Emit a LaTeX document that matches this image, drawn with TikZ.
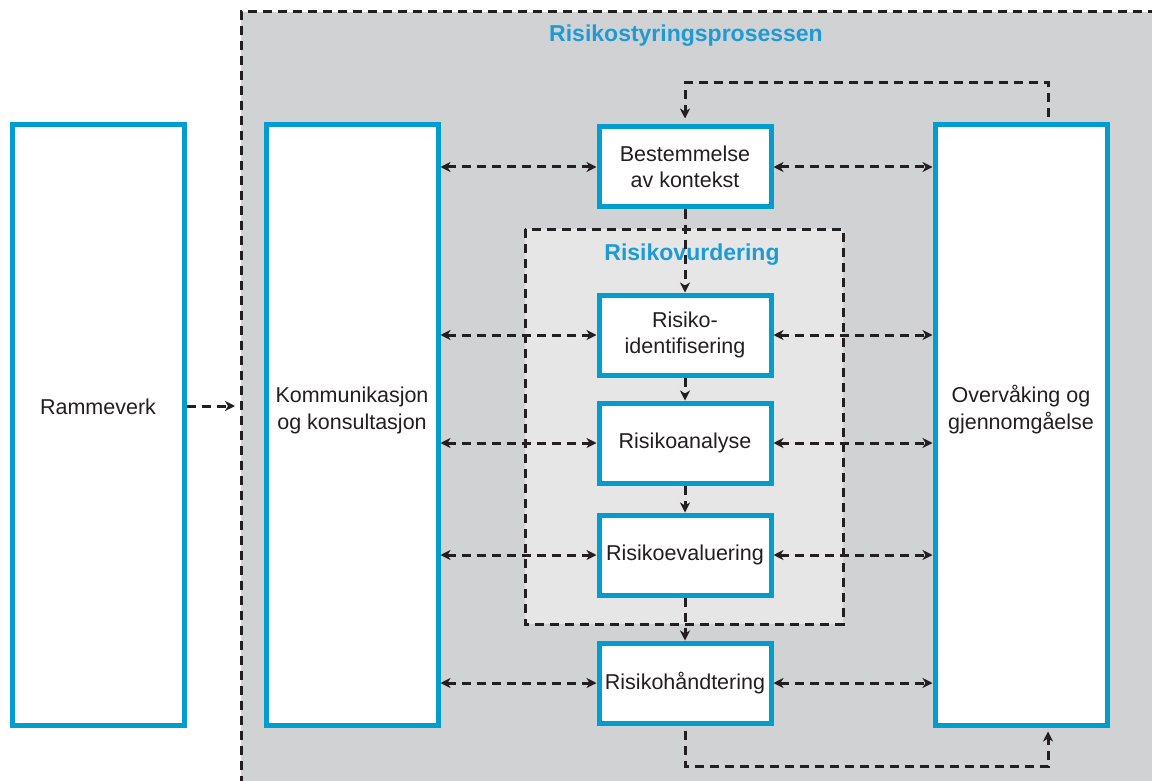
\documentclass[tikz,border=0pt]{standalone}
\usepackage{fontspec}
\setmainfont{Liberation Sans}
\usetikzlibrary{arrows.meta}
\definecolor{boxblue}{RGB}{0,157,206}
\definecolor{titleblue}{RGB}{30,155,212}
\definecolor{outergrey}{RGB}{209,210,212}
\definecolor{innergrey}{RGB}{230,230,230}
\definecolor{dashc}{RGB}{35,31,32}
\definecolor{txtc}{RGB}{35,31,32}
\begin{document}
\begin{tikzpicture}[x=1pt,y=-1pt,
  box/.style={draw=boxblue, line width=5pt, fill=white, minimum width=172pt, minimum height=80pt, inner sep=0pt, align=center, font=\fontsize{21.5}{26}\selectfont, text=txtc},
  tall/.style={draw=boxblue, line width=5pt, fill=white, minimum width=172pt, minimum height=600pt, inner sep=0pt},
  lbl/.style={align=center, font=\fontsize{21.5}{27}\selectfont, text=txtc, inner sep=0pt},
  dline/.style={draw=dashc, line width=3pt, dash pattern=on 9pt off 6pt},
  arr/.style={dline, -{Stealth[length=10pt,width=10pt,inset=3pt]}},
  darr/.style={dline, {Stealth[length=10pt,width=10pt,inset=3pt]}-{Stealth[length=10pt,width=10pt,inset=3pt]}},
  ttl/.style={font=\bfseries\fontsize{23}{28}\selectfont, text=titleblue, inner sep=0pt}
]
\useasboundingbox (0,0) rectangle (1152,781);
\clip (0,0) rectangle (1152,781);
% outer process area
\fill[outergrey] (241,12) rectangle (1170,800);
\draw[dline] (241,800) -- (241,12) -- (1170,12);
% inner assessment area
\draw[dline, fill=innergrey] (525,229) rectangle (843,624);
% titles
\node[ttl] (t1) at (686,36) {Risikostyringsprosessen};
\node[ttl] (t2) at (692,255) {Risikovurdering};
% tall boxes
\node[tall] (ram) at (98,425) {};
\node[tall] (kom) at (352,425) {};
\node[tall] (ove) at (1021,425) {};
\node[lbl] (ramt) at (98,407) {Rammeverk};
\node[lbl] (komt) at (352,410) {Kommunikasjon\\og konsultasjon};
\node[lbl] (ovet) at (1021,410) {Overvåking og\\gjennomgåelse};
% process boxes
\node[box] (bes) at (685,167) {Bestemmelse\\av kontekst};
\node[box] (ide) at (685,335) {Risiko-\\identifisering};
\node[box] (ana) at (685,443) {Risikoanalyse};
\node[box] (eva) at (685,555) {Risikoevaluering};
\node[box] (han) at (685,683) {Risikohåndtering};
% horizontal connectors
\foreach \n in {bes,ide,ana,eva,han}{
  \draw[darr] (kom.east |- \n) -- (\n.west);
  \draw[darr] (\n.east) -- (ove.west |- \n);
}
% framework arrow
\coordinate (rb) at (235,406);
\draw[arr] (ram.east |- rb) -- (rb);
% vertical chain
\draw[arr] (bes.south) -- (ide.north);
\draw[arr] (ide.south) -- (ana.north);
\draw[arr] (ana.south) -- (eva.north);
\draw[arr] (eva.south) -- (han.north);
% feedback loops
\coordinate (f1) at (1048,83);
\coordinate (f2) at (685,83);
\draw[arr, shorten <=5pt, shorten >=6pt] (ove.north -| f1) -- (f1) -- (f2) -- (bes.north);
\coordinate (g1) at (685,766);
\coordinate (g2) at (1048,766);
\draw[arr, shorten <=5pt, shorten >=4pt] (han.south) -- (g1) -- (g2) -- (ove.south -| g2);
\end{tikzpicture}
\end{document}
